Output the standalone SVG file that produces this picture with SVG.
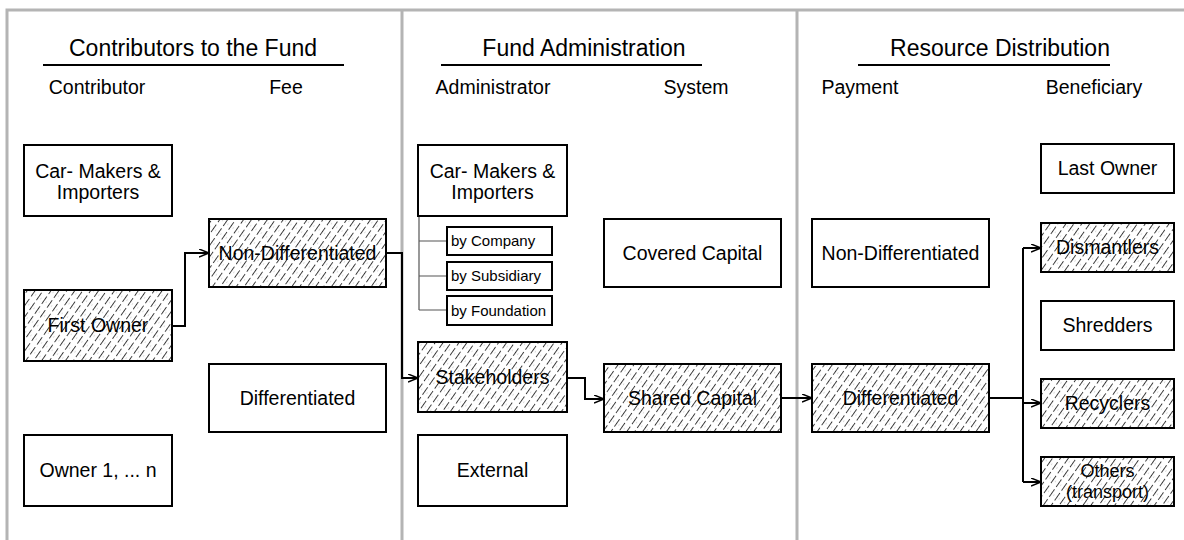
<svg xmlns="http://www.w3.org/2000/svg" width="1184" height="540" viewBox="0 0 1184 540">
<defs>
<pattern id="hatch" patternUnits="userSpaceOnUse" width="6.5" height="12" patternTransform="rotate(35)">
<rect width="6.5" height="12" fill="#fff"/>
<line x1="0.5" y1="0" x2="0.5" y2="9" stroke="#222" stroke-width="0.9"/>
<circle cx="3.3" cy="5" r="0.45" fill="#888"/>
</pattern>
<marker id="arr" markerUnits="userSpaceOnUse" markerWidth="12" markerHeight="10" refX="10" refY="4" orient="auto">
<path d="M0,0 L10,4 L0,8" fill="none" stroke="#000" stroke-width="1.5"/>
</marker>
</defs>
<style>
text{font-family:"Liberation Sans",Arial,sans-serif;fill:#000;text-anchor:middle}
.title{font-size:23px}
.hdr{font-size:19.5px}
.box{fill:#fff;stroke:#000;stroke-width:2}
.hb{fill:url(#hatch);stroke:#000;stroke-width:2}
.t{font-size:19.5px}
.t2{font-size:18px}
.s{font-size:15px;text-anchor:start}
.sep{stroke:#b4b4b4;stroke-width:3;fill:none}
.ul{stroke:#000;stroke-width:2}
.c{fill:none;stroke:#000;stroke-width:2}
.tree{fill:none;stroke:#555;stroke-width:1.2}
</style>
<rect width="1184" height="540" fill="#fff"/>
<g id="frame">
<path class="sep" d="M7,540 V10 H1184 M402,10 V540 M797,10 V540"/>
</g>
<g id="headers">
<text class="title" x="193" y="56">Contributors to the Fund</text>
<line class="ul" x1="43" y1="65" x2="344" y2="65"/>
<text class="hdr" x="97" y="94">Contributor</text>
<text class="hdr" x="286" y="94">Fee</text>
<text class="title" x="584" y="56">Fund Administration</text>
<line class="ul" x1="441" y1="65" x2="702" y2="65"/>
<text class="hdr" x="493" y="94">Administrator</text>
<text class="hdr" x="696" y="94">System</text>
<text class="title" x="1000" y="56">Resource Distribution</text>
<line class="ul" x1="858" y1="65" x2="1110" y2="65"/>
<text class="hdr" x="860" y="94">Payment</text>
<text class="hdr" x="1094" y="94">Beneficiary</text>
</g>
<g id="connectors">
<path class="tree" d="M419,216 V310 M419,241 H447 M419,276 H447 M419,310 H447"/>
<path class="c" d="M172,326 H185 V253 H209" marker-end="url(#arr)"/>
<path class="c" d="M386,253 H402 V378 H418" marker-end="url(#arr)"/>
<path class="c" d="M567,378 H585 V399 H604" marker-end="url(#arr)"/>
<path class="c" d="M781,398 H812" marker-end="url(#arr)"/>
<path class="c" d="M989,398 H1023 M1023,248 V482"/>
<path class="c" d="M1023,248 H1041" marker-end="url(#arr)"/>
<path class="c" d="M1023,403 H1041" marker-end="url(#arr)"/>
<path class="c" d="M1023,482 H1041" marker-end="url(#arr)"/>
</g>
<g id="n-carmakers1"><rect class="box" x="24" y="145" width="148" height="71"/><text class="t" x="98" y="178">Car- Makers &amp;</text><text class="t" x="98" y="199">Importers</text></g>
<g id="n-firstowner"><rect class="hb" x="24" y="290" width="148" height="71"/><text class="t" x="98" y="332">First Owner</text></g>
<g id="n-owner1n"><rect class="box" x="24" y="435" width="148" height="71"/><text class="t" x="98" y="477">Owner 1, ... n</text></g>
<g id="n-fee-nondiff"><rect class="hb" x="209" y="219" width="177" height="68"/><text class="t" x="297.5" y="260">Non-Differentiated</text></g>
<g id="n-fee-diff"><rect class="box" x="209" y="364" width="177" height="68"/><text class="t" x="297.5" y="405">Differentiated</text></g>
<g id="n-carmakers2"><rect class="box" x="418" y="145" width="149" height="71"/><text class="t" x="492.5" y="178">Car- Makers &amp;</text><text class="t" x="492.5" y="199">Importers</text></g>
<g id="n-bycompany"><rect class="box" x="447" y="227" width="105" height="28"/><text class="s" x="451" y="246">by Company</text></g>
<g id="n-bysubsidiary"><rect class="box" x="447" y="262" width="105" height="28"/><text class="s" x="451" y="281">by Subsidiary</text></g>
<g id="n-byfoundation"><rect class="box" x="447" y="296" width="105" height="29"/><text class="s" x="451" y="316">by Foundation</text></g>
<g id="n-stakeholders"><rect class="hb" x="418" y="342" width="149" height="70"/><text class="t" x="492.5" y="384">Stakeholders</text></g>
<g id="n-external"><rect class="box" x="418" y="435" width="149" height="71"/><text class="t" x="492.5" y="477">External</text></g>
<g id="n-covered"><rect class="box" x="604" y="219" width="177" height="68"/><text class="t" x="692.5" y="260">Covered Capital</text></g>
<g id="n-shared"><rect class="hb" x="604" y="364" width="177" height="68"/><text class="t" x="692.5" y="405">Shared Capital</text></g>
<g id="n-pay-nondiff"><rect class="box" x="812" y="219" width="177" height="68"/><text class="t" x="900.5" y="260">Non-Differentiated</text></g>
<g id="n-pay-diff"><rect class="hb" x="812" y="364" width="177" height="68"/><text class="t" x="900.5" y="405">Differentiated</text></g>
<g id="n-lastowner"><rect class="box" x="1041" y="144" width="133" height="49"/><text class="t" x="1107.5" y="175">Last Owner</text></g>
<g id="n-dismantlers"><rect class="hb" x="1041" y="223" width="133" height="49"/><text class="t" x="1107.5" y="254">Dismantlers</text></g>
<g id="n-shredders"><rect class="box" x="1041" y="301" width="133" height="49"/><text class="t" x="1107.5" y="332">Shredders</text></g>
<g id="n-recyclers"><rect class="hb" x="1041" y="379" width="133" height="49"/><text class="t" x="1107.5" y="410">Recyclers</text></g>
<g id="n-others"><rect class="hb" x="1041" y="457" width="133" height="49"/><text class="t2" x="1107.5" y="477">Others</text><text class="t2" x="1107.5" y="498">(transport)</text></g>
</svg>
